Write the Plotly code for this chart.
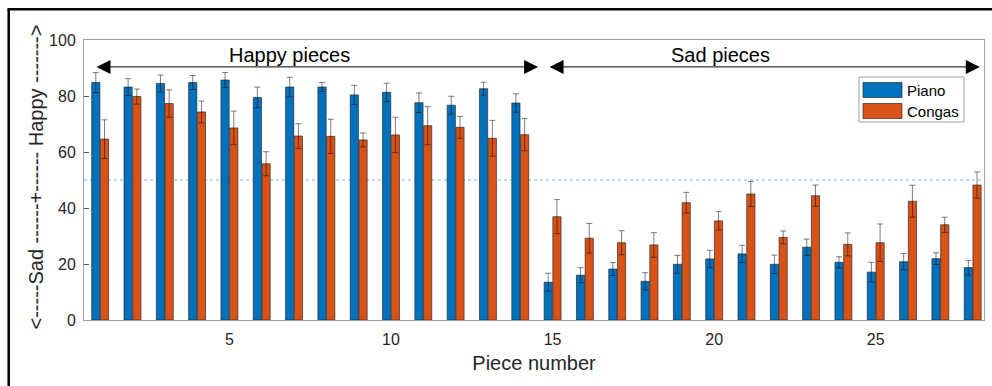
import plotly.graph_objects as go

pieces = list(range(1, 29))
series_names = ["Piano", "Congas"]
piano = [84.8, 83.2, 84.5, 84.8, 85.7, 79.5, 83.2, 83.2, 80.4, 81.3, 77.6, 76.7, 82.6, 77.5,
         13.5, 16.0, 18.2, 13.8, 19.9, 21.8, 23.6, 19.9, 26.0, 20.6, 17.1, 20.8, 21.9, 18.7]
piano_err = [3.6, 3.0, 3.0, 2.5, 2.7, 3.7, 3.5, 1.6, 3.4, 3.3, 3.5, 3.2, 2.3, 3.3,
             3.2, 2.7, 2.3, 3.1, 3.2, 3.1, 3.1, 3.3, 2.9, 2.0, 3.5, 2.9, 2.1, 2.6]
congas = [64.6, 79.8, 77.3, 74.3, 68.6, 55.8, 65.7, 65.6, 64.3, 66.1, 69.4, 68.8, 64.9, 66.2,
          36.9, 29.2, 27.6, 26.8, 41.9, 35.4, 45.0, 29.5, 44.4, 27.0, 27.6, 42.4, 34.0, 48.2]
congas_err = [6.9, 2.7, 4.9, 3.9, 6.0, 4.3, 4.4, 6.1, 2.5, 6.3, 6.8, 3.9, 6.4, 5.8,
              6.1, 5.3, 4.3, 4.4, 3.7, 3.3, 4.5, 2.3, 3.8, 4.1, 6.7, 5.7, 2.7, 4.7]
x_ticks = [5, 10, 15, 20, 25]
y_ticks = [0, 20, 40, 60, 80, 100]
colors = ["#0072BD", "#D95319"]

FONT = "Liberation Sans, Arial, Helvetica, sans-serif"
W, H = 992, 386
ML, MT = 84, 40
PW, PH = 900, 280
MR = W - ML - PW
MB = H - MT - PH


def px(xp):  # page pixel x -> paper
    return (xp - ML) / PW


def py(yp):  # page pixel y -> paper
    return (MT + PH - yp) / PH


fig = go.Figure()
for name, vals, errs, col in [(series_names[0], piano, piano_err, colors[0]),
                              (series_names[1], congas, congas_err, colors[1])]:
    fig.add_trace(go.Bar(
        x=pieces, y=vals, name=name, showlegend=False,
        marker=dict(color=col, line=dict(color="rgba(40,40,40,0.85)", width=0.8)),
        error_y=dict(type="data", array=errs, visible=True,
                     color="rgba(0,0,0,0.5)", thickness=1, width=3),
    ))

shapes = []
shapes.append(dict(type="line", xref="paper", yref="y", x0=0, x1=1, y0=50, y1=50,
                   line=dict(color="rgba(60,150,230,0.7)", width=1, dash="dot"), layer="below"))
# outer black frame (left and top edges)
shapes.append(dict(type="line", xref="paper", yref="paper", x0=px(8.7), x1=px(8.7),
                   y0=py(9), y1=py(400), line=dict(color="black", width=2.5)))
shapes.append(dict(type="line", xref="paper", yref="paper", x0=px(7.5), x1=px(1000),
                   y0=py(9.3), y1=py(9.3), line=dict(color="black", width=2.5)))
# legend box and swatches
shapes.append(dict(type="rect", xref="paper", yref="paper", x0=px(859), x1=px(964),
                   y0=py(122), y1=py(77), line=dict(color="#a0a0a0", width=1),
                   fillcolor="white"))
annotations = []
for i, (name, col) in enumerate(zip(series_names, colors)):
    yc = 90 + i * 21
    shapes.append(dict(type="rect", xref="paper", yref="paper", x0=px(863), x1=px(902),
                       y0=py(yc + 7.5), y1=py(yc - 7.5),
                       line=dict(color="rgba(40,40,40,0.85)", width=0.8), fillcolor=col))
    annotations.append(dict(x=px(905), y=py(yc), xref="paper", yref="paper", text=name,
                            showarrow=False, xanchor="left", yanchor="middle",
                            font=dict(family=FONT, size=15, color="black")))

for (x0, x1) in [(0.84, 14.55), (14.86, 28.22)]:
    annotations.append(dict(x=x1, y=90.4, ax=x0, ay=90.4, xref="x", yref="y",
                            axref="x", ayref="y", showarrow=True, arrowhead=2,
                            arrowside="end+start", arrowsize=2.8, arrowwidth=1,
                            arrowcolor="black", text=""))
annotations.append(dict(x=6.87, y=94.6, xref="x", yref="y", text="Happy pieces",
                        showarrow=False, font=dict(family=FONT, size=20, color="black")))
annotations.append(dict(x=20.2, y=94.6, xref="x", yref="y", text="Sad pieces",
                        showarrow=False, font=dict(family=FONT, size=20, color="black")))
annotations.append(dict(x=px(35), y=py(177.5), xref="paper", yref="paper", textangle=-90,
                        text="&lt;-----Sad ------+------ Happy -------&gt;",
                        showarrow=False, xanchor="center", yanchor="middle",
                        font=dict(family=FONT, size=20, color="#262626")))

fig.update_layout(
    width=W, height=H,
    margin=dict(l=ML, r=MR, t=MT, b=MB, pad=0, autoexpand=False),
    barmode="group", bargap=0.46, bargroupgap=0.06,
    plot_bgcolor="white", paper_bgcolor="white",
    font=dict(family=FONT, color="#262626"),
    shapes=shapes, annotations=annotations,
    showlegend=False,
)
fig.update_xaxes(range=[0.5, 28.35], tickvals=x_ticks, ticktext=[str(t) for t in x_ticks],
                 ticks="inside", ticklen=5, tickcolor="#555", showgrid=False, zeroline=False,
                 showline=True, mirror=True, linecolor="#a0a0a0", linewidth=1,
                 tickfont=dict(size=16, color="#262626"), ticklabelstandoff=5,
                 title=dict(text="Piece number", font=dict(size=20, color="#262626"), standoff=8))
fig.update_yaxes(range=[0, 100], tickvals=y_ticks, ticks="inside", ticklen=5, tickcolor="#555",
                 showgrid=False, zeroline=False, showline=True, mirror=True,
                 linecolor="#a0a0a0", linewidth=1, tickfont=dict(size=16, color="#262626"),
                 ticklabelstandoff=4)

fig.write_html("out.html", config={"displayModeBar": False},
               post_script="document.body.style.margin='0';document.body.style.overflow='hidden';")
